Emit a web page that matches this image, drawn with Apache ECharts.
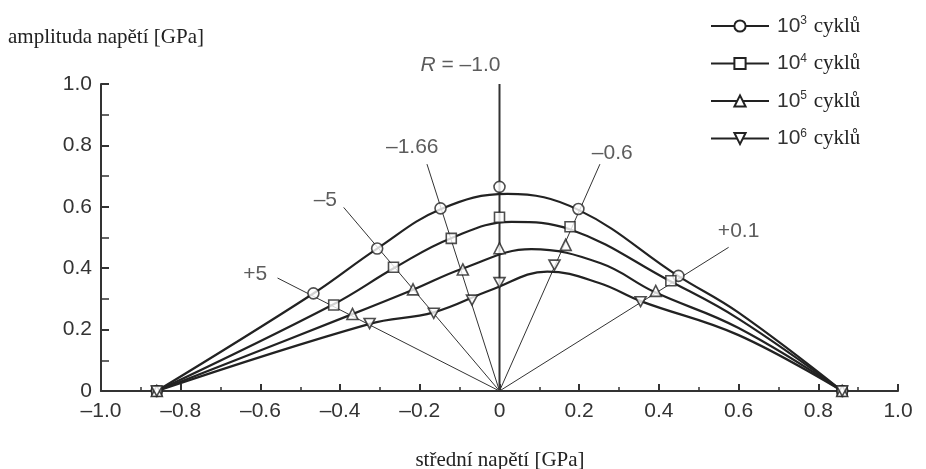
<!DOCTYPE html>
<html>
<head>
<meta charset="utf-8">
<script src="https://cdn.jsdelivr.net/npm/echarts@6/dist/echarts.min.js"></script>
<style>
  html, body { margin: 0; padding: 0; background: #fff; }
  #chart { width: 926px; height: 469px; }
</style>
</head>
<body>
<div id="chart"></div>
<script>
// cycle counts (exponents of 10)
const cycleExp = ['3', '4', '5', '6'];

// fitted curves, [mean stress, amplitude] in GPa
const curve3 = [[-0.86, 0], [-0.469, 0.316], [-0.307, 0.464], [-0.148, 0.592], [0.02, 0.642], [0.198, 0.59], [0.448, 0.375], [0.6, 0.255], [0.86, 0]];
const curve4 = [[-0.86, 0], [-0.42, 0.28], [-0.261, 0.403], [-0.123, 0.497], [0.03, 0.551], [0.178, 0.526], [0.425, 0.36], [0.6, 0.235], [0.86, 0]];
const curve5 = [[-0.86, 0], [-0.374, 0.248], [-0.217, 0.33], [-0.09, 0.4], [0.08, 0.462], [0.254, 0.416], [0.388, 0.323], [0.6, 0.205], [0.86, 0]];
const curve6 = [[-0.86, 0], [-0.328, 0.218], [-0.165, 0.256], [-0.02, 0.33], [0.12, 0.389], [0.25, 0.352], [0.356, 0.292], [0.6, 0.182], [0.86, 0]];

// measured points on the R lines
const points3 = [[-0.86, 0], [-0.467, 0.318], [-0.307, 0.464], [-0.148, 0.595], [0, 0.665], [0.198, 0.593], [0.449, 0.375], [0.86, 0]];
const points4 = [[-0.86, 0], [-0.416, 0.28], [-0.266, 0.403], [-0.121, 0.497], [0, 0.566], [0.177, 0.535], [0.43, 0.359], [0.86, 0]];
const points5 = [[-0.86, 0], [-0.369, 0.251], [-0.217, 0.331], [-0.092, 0.396], [0, 0.465], [0.166, 0.476], [0.392, 0.326], [0.86, 0]];
const points6 = [[-0.86, 0], [-0.326, 0.22], [-0.165, 0.253], [-0.069, 0.296], [0, 0.353], [0.138, 0.41], [0.354, 0.291], [0.86, 0]];

// R = const rays from origin
const rLineEnds = [[-0.557, 0.368], [-0.391, 0.598], [-0.182, 0.739], [0, 1.0], [0.252, 0.739], [0.575, 0.468]];
const rLabels = ['+5', '–5', '–1.66', '{i|R} = –1.0', '–0.6', '+0.1'];
const rLabelPos = [[-0.613, 0.381], [-0.437, 0.622], [-0.219, 0.794], [-0.098, 1.062], [0.283, 0.776], [0.6, 0.521]];

const curves = [curve3, curve4, curve5, curve6];
const points = [points3, points4, points5, points6];
const symbols = ['circle', 'rect', 'triangle', 'path://M0,0L10,0L5,8.66Z'];
const symbolSizes = [11, 10, 11, [11, 10]];

const sans = 'Liberation Sans';
const serif = 'Liberation Serif';
const ink = '#222';

const chart = echarts.init(document.getElementById('chart'));

const fmt = v => (v === 0 ? '0' : v.toFixed(1).replace('-', '–'));

const series = [];

rLineEnds.forEach((end, i) => {
  series.push({
    type: 'line',
    data: [[0, 0], end],
    symbol: 'none',
    silent: true,
    z: 1,
    lineStyle: { color: '#333', width: i === 3 ? 2 : 1 }
  });
});

curves.forEach((c, i) => {
  series.push({
    name: '10^' + cycleExp[i],
    type: 'line',
    data: c,
    smooth: 0.4,
    symbol: symbols[i],
    symbolSize: symbolSizes[i],
    showSymbol: false,
    z: 2,
    lineStyle: { color: ink, width: 2.2 },
    itemStyle: { color: '#fff', borderColor: ink, borderWidth: 1.6 }
  });
});

points.forEach((p, i) => {
  series.push({
    name: 'pts' + cycleExp[i],
    type: 'scatter',
    data: p,
    symbol: symbols[i],
    symbolSize: symbolSizes[i],
    clip: false,
    z: 3 + i,
    itemStyle: { color: '#fff', borderColor: ink, borderWidth: 1.6 }
  });
});

series.push({
  type: 'scatter',
  clip: false,
  symbolSize: 1,
  itemStyle: { color: 'transparent' },
  data: rLabelPos.map((p, i) => ({
    value: p,
    label: {
      show: true,
      position: 'inside',
      formatter: rLabels[i],
      fontFamily: sans,
      fontSize: 21,
      color: '#333',
      rich: { i: { fontFamily: sans, fontSize: 21, fontStyle: 'italic', color: '#333' } }
    }
  }))
});

chart.setOption({
  animation: false,
  grid: { left: 101, top: 84, width: 797, height: 307 },
  xAxis: {
    type: 'value',
    min: -1,
    max: 1,
    interval: 0.2,
    splitLine: { show: false },
    axisLine: { onZero: false, lineStyle: { color: '#333', width: 2 } },
    axisTick: { inside: true, length: 7, lineStyle: { color: '#333', width: 2 } },
    minorTick: { show: true, splitNumber: 2, length: 4, lineStyle: { color: '#333', width: 1.5 } },
    axisLabel: { formatter: fmt, fontFamily: sans, fontSize: 21, color: '#333', margin: 10 }
  },
  yAxis: {
    type: 'value',
    min: 0,
    max: 1,
    interval: 0.2,
    splitLine: { show: false },
    axisLine: { onZero: false, lineStyle: { color: '#333', width: 2 } },
    axisTick: { inside: true, length: 8, lineStyle: { color: '#333', width: 2 } },
    minorTick: { show: true, splitNumber: 2, length: 8, lineStyle: { color: '#333', width: 1.5 } },
    axisLabel: { formatter: fmt, fontFamily: sans, fontSize: 21, color: '#333', margin: 9 }
  },
  legend: {
    orient: 'vertical',
    left: 705,
    top: 10,
    itemWidth: 58,
    itemHeight: 14,
    itemGap: 16,
    data: cycleExp.map(e => '10^' + e),
    formatter: name => '{n|10}{s|' + name.split('^')[1] + '}  {c|cyklů}',
    textStyle: {
      padding: [0, 0, 0, 3],
      rich: {
        n: { fontFamily: sans, fontSize: 21, color: '#333' },
        s: { fontFamily: sans, fontSize: 12, color: '#333', verticalAlign: 'top', padding: [0, 0, 10, 0] },
        c: { fontFamily: serif, fontSize: 21, color: ink }
      }
    }
  },
  graphic: [
    {
      type: 'text', left: 8, top: 27,
      style: { text: 'amplituda napětí [GPa]', font: '21px "Liberation Serif"', fill: ink }
    },
    {
      type: 'text', x: 500, y: 460,
      style: { text: 'střední napětí [GPa]', font: '21px "Liberation Serif"', fill: ink, textAlign: 'center', textVerticalAlign: 'middle' }
    }
  ],
  series: series
});
</script>
</body>
</html>
